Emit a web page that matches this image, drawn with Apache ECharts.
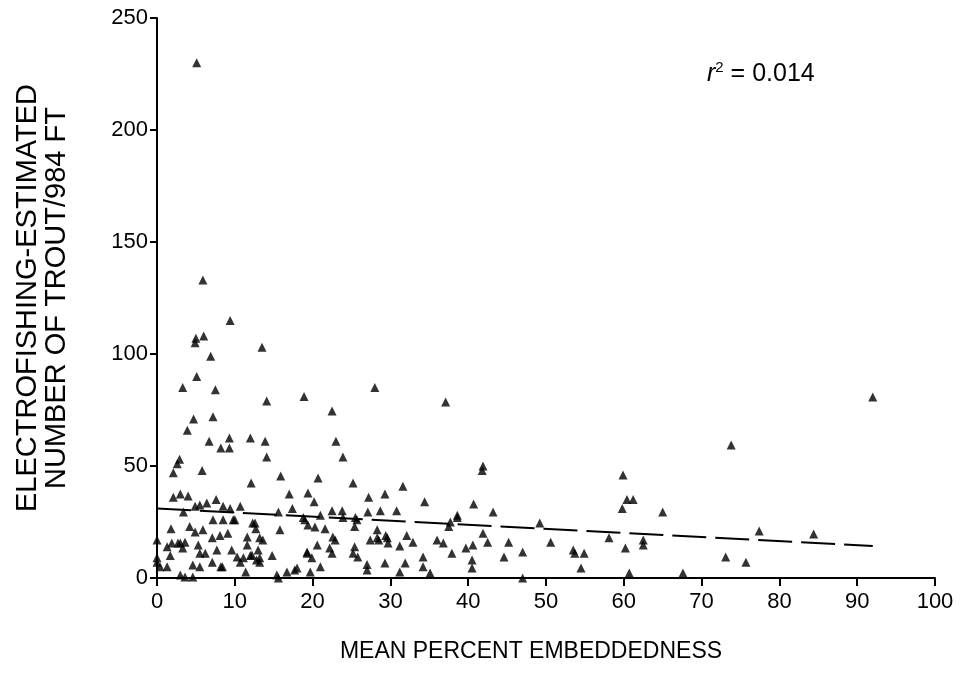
<!DOCTYPE html>
<html>
<head>
<meta charset="utf-8">
<script src="https://cdn.jsdelivr.net/npm/echarts@6/dist/echarts.min.js"></script>
<style>
  html, body { margin: 0; padding: 0; background: #fff; }
  #chart { width: 964px; height: 673px; }
</style>
</head>
<body>
<div id="chart"></div>
<script>
// Mean percent embeddedness (x) and electrofishing-estimated trout per 984 ft (y)
const embeddedness = [
  5.1, 5.9, 9.4, 4.9, 5.0, 6.0, 13.5, 6.9, 5.1, 3.3, 7.5, 28.0, 14.1, 18.9, 22.5, 37.1, 92.0,
  4.7, 7.2, 3.9, 6.7, 9.3, 12.0, 13.9, 23.0, 8.2, 9.3, 73.8, 14.1, 23.9,
  2.1, 2.6, 2.9, 5.8, 15.9, 20.7, 12.1, 25.2, 31.6, 34.4, 17.0, 19.4, 27.2, 29.3, 2.1, 3.0, 4.0, 20.2,
  41.8, 41.9, 59.9, 60.4, 61.2, 59.8, 65.0, 40.7, 38.6, 43.2, 37.5, 41.9, 42.5, 49.2, 39.7, 40.6,
  45.2, 44.6, 47.0, 50.6, 40.5, 40.5, 53.5, 53.7, 54.9, 54.5, 58.1, 60.2, 62.5, 62.5, 60.7, 67.6, 47.0,
  77.4, 84.4, 73.1, 75.7,
  36.0, 36.8, 37.9, 37.7, 38.6, 34.2, 34.2, 35.1,
  3.4, 4.9, 5.5, 6.4, 7.6, 8.5, 9.4, 10.7, 7.2, 8.5, 10.0, 15.6, 17.4, 19.0, 22.5, 23.8, 28.7, 30.8,
  21.0, 25.5, 27.1, 18.8, 19.4, 20.3, 21.6, 23.9, 25.7, 25.4, 28.3, 29.6, 27.4, 28.3, 22.6, 22.9,
  32.1, 32.9, 31.2,
  9.8, 12.6, 12.3, 12.7, 15.8, 11.6, 13.2, 13.6,
  1.8, 4.2, 4.9, 5.9, 7.1, 8.1, 9.1, 1.3, 1.9, 3.0, 3.3, 1.7, 5.3, 5.5, 9.6, 10.3, 11.1, 12.0, 11.6,
  13.0, 12.8, 13.2, 14.8, 19.3, 1.3, 4.6, 5.5, 8.2, 11.4, 3.0, 4.6, 0.0, 0.0, 0.0, 15.4, 16.7, 18.0,
  20.6, 19.3, 19.9, 22.2, 22.5, 25.4, 25.2, 25.8, 27.0, 27.0, 29.3, 31.2, 31.9, 21.0, 19.7,
  2.7, 3.6, 6.2, 7.7, 10.7, 13.2, 7.1, 0.4, 3.6, 15.6, 17.7, 8.4, 12.2, 29.7, 28.5, 29.4
];
const troutCount = [
  230, 133, 115, 105, 107, 108, 103, 99, 90, 85, 84, 85, 79, 81, 74.5, 78.6, 80.8,
  71, 72, 66, 61, 62.5, 62.5, 61, 61, 58, 58, 59.4, 54, 54,
  47, 51, 53, 48, 45.5, 44.6, 42.4, 42.4, 41, 34, 37.5, 38, 36, 37.5, 36, 37.5, 36.6, 34,
  48, 50, 46, 35, 35, 31, 29.5, 33, 28, 29.5, 23, 20, 16, 24.5, 13.4, 14.7,
  16, 9.4, 11.6, 16, 8, 4.5, 12.5, 11, 11, 4.5, 18, 13.4, 17, 14.7, 2.2, 2.2, 0,
  21, 19.6, 9.4, 7,
  17, 15.6, 11, 25, 27, 9.4, 5, 2.2,
  29.5, 32, 32.6, 33.5, 35, 32, 31, 32, 26, 26, 26, 29.5, 31, 26, 30, 30, 30, 30,
  28, 27, 29.5, 27, 23.7, 22.8, 22, 27, 26, 23, 21.5, 18, 17, 18, 18.3, 17,
  19, 16, 14.3,
  26, 24.5, 24.5, 22, 21.5, 18.3, 18, 17,
  22, 23, 20.5, 21.5, 18, 19, 20, 14, 15.6, 15.6, 13.4, 10, 14.7, 11, 12.5, 9.4, 9, 10, 14.7,
  12.5, 8, 9, 10, 11, 5, 5.8, 5, 5, 2.7, 1.3, 0.5, 17, 9, 7, 1.3, 2.7, 4.5,
  14.7, 11.6, 9, 13.4, 11, 14, 11, 9.4, 6, 3.6, 6.7, 2.7, 6.7, 5, 2.7,
  15.6, 16, 11, 12.5, 7, 7, 7, 5, 0.5, 0, 3.6, 5, 10.3, 15.6, 17, 19
];

// Fitted regression line end points
const fitX = [0, 92];
const fitY = [31, 14.3];

const xTicks = [0, 10, 20, 30, 40, 50, 60, 70, 80, 90, 100];
const yTicks = [0, 50, 100, 150, 200, 250];

const xTitle = 'MEAN PERCENT EMBEDDEDNESS';
const yTitle = 'ELECTROFISHING-ESTIMATED\nNUMBER OF TROUT/984 FT';
const fitNote = { label: 'r', power: '2', value: ' = 0.014' };

const FONT = "'Liberation Sans', Arial, Helvetica, sans-serif";
const INK = '#000';

const points = embeddedness.map((x, i) => [x, troutCount[i]]);
const fitLine = fitX.map((x, i) => [x, fitY[i]]);

const chart = echarts.init(document.getElementById('chart'), null, { renderer: 'canvas' });

chart.setOption({
  backgroundColor: '#fff',
  animation: false,
  grid: { left: 157, right: 29, top: 18, bottom: 95, containLabel: false, outerBoundsMode: 'none' },
  xAxis: {
    type: 'value',
    min: xTicks[0],
    max: xTicks[xTicks.length - 1],
    interval: xTicks[1] - xTicks[0],
    name: xTitle,
    nameLocation: 'middle',
    nameGap: 62,
    nameTextStyle: { color: INK, fontFamily: FONT, fontSize: 23, padding: [0, 30, 0, 0] },
    axisLine: { lineStyle: { color: INK, width: 2 } },
    axisTick: { show: true, inside: false, length: 8, lineStyle: { color: INK, width: 2 } },
    axisLabel: { color: INK, fontFamily: FONT, fontSize: 22, margin: 13 },
    splitLine: { show: false }
  },
  yAxis: {
    type: 'value',
    min: yTicks[0],
    max: yTicks[yTicks.length - 1],
    interval: yTicks[1] - yTicks[0],
    name: yTitle,
    nameLocation: 'middle',
    nameRotate: 90,
    nameGap: 86,
    nameTextStyle: { color: INK, fontFamily: FONT, fontSize: 29, lineHeight: 29, align: 'center' },
    axisLine: { show: true, lineStyle: { color: INK, width: 2 } },
    axisTick: { show: true, inside: false, length: 7, lineStyle: { color: INK, width: 2 } },
    axisLabel: { color: INK, fontFamily: FONT, fontSize: 22, margin: 9 },
    splitLine: { show: false }
  },
  series: [
    {
      type: 'scatter',
      data: points,
      symbol: 'triangle',
      symbolSize: 9,
      itemStyle: { color: INK },
      z: 3
    },
    {
      type: 'line',
      data: fitLine,
      symbol: 'none',
      lineStyle: { color: INK, width: 2, type: [34, 9] },
      z: 2
    }
  ],
  graphic: [
    {
      type: 'text',
      left: 707,
      top: 60,
      style: {
        text: '{r|' + fitNote.label + '}{p|' + fitNote.power + '}{v|' + fitNote.value + '}',
        fill: INK,
        rich: {
          r: { fontFamily: FONT, fontSize: 25, fontStyle: 'italic', lineHeight: 27, verticalAlign: 'bottom' },
          p: { fontFamily: FONT, fontSize: 15, lineHeight: 27, verticalAlign: 'top' },
          v: { fontFamily: FONT, fontSize: 25, lineHeight: 27, verticalAlign: 'bottom' }
        }
      }
    }
  ]
});
</script>
</body>
</html>
